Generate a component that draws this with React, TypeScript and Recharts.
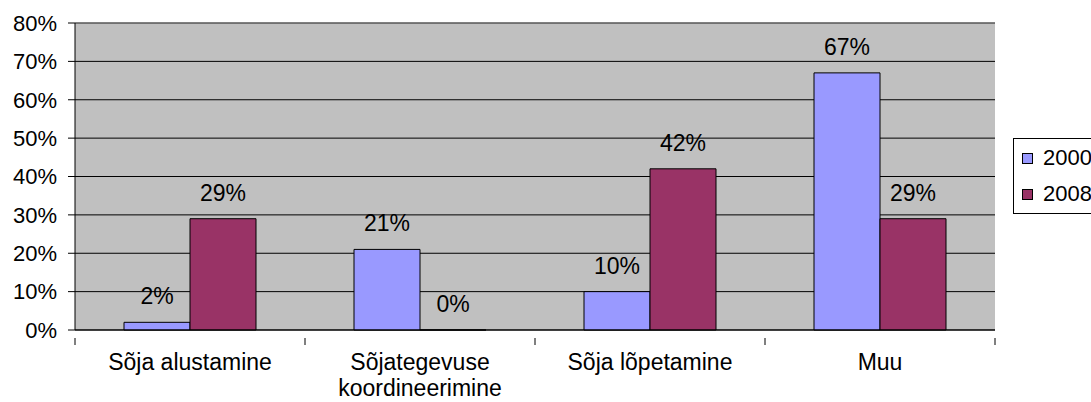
import React from 'react';
import { BarChart, Bar, XAxis, YAxis, CartesianGrid, LabelList, ReferenceLine } from 'recharts';

const categories = ['Sõja alustamine', 'Sõjategevuse koordineerimine', 'Sõja lõpetamine', 'Muu'];
const values2000 = [2, 21, 10, 67];
const values2008 = [29, 0, 42, 29];
const yTicks = [0, 10, 20, 30, 40, 50, 60, 70, 80];

const data = categories.map((name, i) => ({ name, y2000: values2000[i], y2008: values2008[i] }));

const FONT = '"Liberation Sans", Arial, sans-serif';
const CAT_W = 230;

const CategoryTick = (props: any) => {
  const { x, y, payload, index } = props;
  const words: string[] = String(payload.value).split(' ');
  const lines = payload.value.length > 20 ? words : [payload.value];
  return (
    <g>
      <line x1={x - CAT_W / 2} x2={x - CAT_W / 2} y1={y} y2={y + 7} stroke="#000" />
      {index === categories.length - 1 && (
        <line x1={x + CAT_W / 2} x2={x + CAT_W / 2} y1={y} y2={y + 7} stroke="#000" />
      )}
      <text x={x} y={y + 32} textAnchor="middle" fontSize={23} fontFamily={FONT} fill="#000">
        {lines.map((l, i) => (
          <tspan key={l} x={x} dy={i === 0 ? 0 : 26}>{l}</tspan>
        ))}
      </text>
    </g>
  );
};

const ValueLabel = (props: any) => {
  const { x, y, width, value } = props;
  return (
    <text x={x + width / 2} y={y - 18} textAnchor="middle" fontSize={23} fontFamily={FONT} fill="#000">
      {`${value}%`}
    </text>
  );
};

const LegendBox = () => (
  <div style={{ position: 'absolute', left: 1013, top: 138, border: '1px solid #000', width: 100, height: 76, background: '#fff', fontFamily: FONT, fontSize: 22, boxSizing: 'border-box', paddingLeft: 8, paddingTop: 1 }}>
    {[{ c: '#9999FF', t: '2000' }, { c: '#993366', t: '2008' }].map((it) => (
      <div key={it.t} style={{ display: 'flex', alignItems: 'center', height: 36 }}>
        <span style={{ display: 'inline-block', width: 9, height: 9, background: it.c, border: '1px solid #000', marginRight: 10 }} />
        <span>{it.t}</span>
      </div>
    ))}
  </div>
);

export default function App() {
  return (
    <div style={{ position: 'absolute', left: 0, top: 0, width: 1091, height: 402, overflow: 'hidden', background: '#fff' }}>
      <BarChart
        width={1091}
        height={402}
        data={data}
        margin={{ top: 23, right: 96, bottom: 0, left: 15 }}
        barCategoryGap={49}
        barGap={0}
      >
        <CartesianGrid fill="#C0C0C0" stroke="#000" vertical={false} fillOpacity={1} />
        <ReferenceLine y={80} stroke="#808080" />
        <XAxis
          dataKey="name"
          axisLine={{ stroke: '#000' }}
          tickLine={false}
          tick={<CategoryTick />}
          interval={0}
          height={72}
        />
        <YAxis
          domain={[0, 80]}
          ticks={yTicks}
          interval={0}
          tickFormatter={(v) => `${v}%`}
          axisLine={{ stroke: '#000' }}
          tickLine={{ stroke: '#000' }}
          tickSize={7}
          tickMargin={11}
          width={60}
          tick={{ fill: '#000', fontSize: 22, fontFamily: FONT }}
        />
        <YAxis yAxisId="r" orientation="right" width={0} tick={false} tickLine={false} axisLine={{ stroke: '#808080' }} domain={[0, 80]} />
        <Bar dataKey="y2000" fill="#9999FF" stroke="#000" strokeWidth={1} isAnimationActive={false}>
          <LabelList dataKey="y2000" content={<ValueLabel />} />
        </Bar>
        <Bar dataKey="y2008" fill="#993366" stroke="#000" strokeWidth={1} minPointSize={0.01} isAnimationActive={false}>
          <LabelList dataKey="y2008" content={<ValueLabel />} />
        </Bar>
      </BarChart>
      <LegendBox />
    </div>
  );
}
